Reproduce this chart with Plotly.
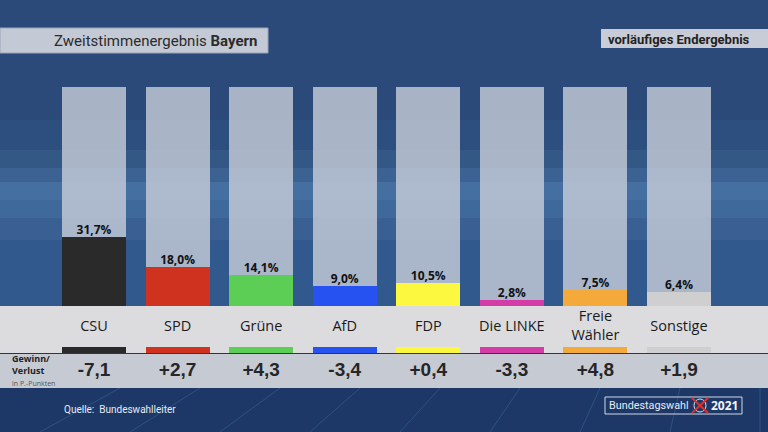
import plotly.graph_objects as go

# Zweitstimmenergebnis Bayern, Bundestagswahl 2021
parties = ["CSU", "SPD", "Grüne", "AfD", "FDP", "Die LINKE", "Freie<br>Wähler", "Sonstige"]
shares = [31.7, 18.0, 14.1, 9.0, 10.5, 2.8, 7.5, 6.4]
changes = ["-7,1", "+2,7", "+4,3", "-3,4", "+0,4", "-3,3", "+4,8", "+1,9"]
colors = ["#2a2a2a", "#cf3320", "#5ccd55", "#2552f0", "#fcf83f", "#d43ca8", "#f4a93b", "#cfcfcf"]

W, H = 768, 432
PX = 2.19          # pixels per percent point
STEP = 83.57       # pixels between party columns
X0 = 94            # pixel centre of the first column
BAR_W = 64 / STEP

def py(p):
    return 1 - p / H

def px(p):
    return p / W

xs = list(range(len(parties)))
pct_labels = ["<b>" + f"{v:.1f}".replace(".", ",") + "%</b>" for v in shares]
change_labels = ["<b>" + c + "</b>" for c in changes]

fig = go.Figure()

# full-height background columns (100 %)
fig.add_trace(go.Bar(x=xs, y=[100] * len(xs), width=BAR_W,
                     marker=dict(color="rgba(204,209,219,0.78)", line_width=0),
                     hoverinfo="skip"))
# result bars
fig.add_trace(go.Bar(x=xs, y=shares, width=BAR_W,
                     marker=dict(color=colors, line_width=0)))
# percent labels
fig.add_trace(go.Scatter(x=xs, y=shares, mode="text", text=pct_labels,
                         textposition="top center",
                         textfont=dict(family="Open Sans", size=12, color="#111111")))

# colour strips below party names
fig.add_trace(go.Bar(x=xs, y=[2.8] * len(xs), base=-21.6, width=BAR_W,
                     marker=dict(color=colors, line_width=0)))
# party names
fig.add_trace(go.Scatter(x=xs, y=[-9.6] * len(xs), mode="text", text=parties,
                         textfont=dict(family="Open Sans", size=14.5, color="#1a1a1a")))
# gains / losses
fig.add_trace(go.Scatter(x=xs, y=[-30] * len(xs), mode="text", text=change_labels,
                         textfont=dict(family="Liberation Sans", size=19, color="#262626")))

shapes = []
# background gradient (dark blue with lighter middle band)
bands = [(0, 120, "#2b4a7a"), (120, 150, "#2d4f80"), (150, 168, "#335886"),
         (168, 182, "#3b6293"), (182, 200, "#456fa0"), (200, 218, "#3f699b"),
         (218, 240, "#395f93"), (240, 306, "#32598d"), (306, 432, "#1d3867")]
for a, b, c in bands:
    shapes.append(dict(type="rect", xref="paper", yref="paper", x0=0, x1=1,
                       y0=py(b), y1=py(a), fillcolor=c, line_width=0, layer="below"))
# grid lines on lower dark area
for i in range(9):
    shapes.append(dict(type="line", xref="paper", yref="paper",
                       x0=px(40 + i * 90), x1=px(120 + i * 80), y0=0, y1=py(388),
                       line=dict(color="rgba(90,160,220,0.25)", width=1), layer="below"))
# label band and change band
shapes.append(dict(type="rect", xref="paper", yref="paper", x0=0, x1=1,
                   y0=py(353), y1=py(306), fillcolor="#dcdcdf", line_width=0, layer="below"))
shapes.append(dict(type="rect", xref="paper", yref="paper", x0=0, x1=1,
                   y0=py(388), y1=py(354), fillcolor="#c6cad3", line_width=0, layer="below"))
# header boxes
shapes.append(dict(type="rect", xref="paper", yref="paper", x0=0, x1=px(268),
                   y0=py(53), y1=py(28), fillcolor="#c4c9d6",
                   line=dict(color="#9aa4b8", width=1)))
shapes.append(dict(type="rect", xref="paper", yref="paper", x0=px(601), x1=1,
                   y0=py(48), y1=py(29), fillcolor="#c8ccd7", line_width=0))
# logo box
shapes.append(dict(type="rect", xref="paper", yref="paper", x0=px(605), x1=px(742),
                   y0=py(414), y1=py(397), fillcolor="rgba(0,0,0,0)",
                   line=dict(color="#d0d8e6", width=1)))
shapes.append(dict(type="circle", xref="paper", yref="paper", x0=px(694), x1=px(706),
                   y0=py(412), y1=py(399), line=dict(color="#d8dde6", width=1)))
shapes.append(dict(type="line", xref="paper", yref="paper", x0=px(692), x1=px(708),
                   y0=py(398), y1=py(413), line=dict(color="#e0302a", width=2)))
shapes.append(dict(type="line", xref="paper", yref="paper", x0=px(692), x1=px(708),
                   y0=py(413), y1=py(398), line=dict(color="#e0302a", width=2)))

annotations = [
    dict(text="Zweitstimmenergebnis <b>Bayern</b>", x=px(52), y=py(41), xanchor="left",
         font=dict(family="Roboto", size=15, color="#2b2b2b")),
    dict(text="<b>vorläufiges Endergebnis</b>", x=px(606), y=py(39), xanchor="left",
         font=dict(family="Roboto", size=13, color="#222222")),
    dict(text="<b>Gewinn/<br>Verlust</b>", x=px(10), y=py(364), xanchor="left", align="left",
         font=dict(family="Open Sans", size=9, color="#222222")),
    dict(text="in P.-Punkten", x=px(10), y=py(383), xanchor="left",
         font=dict(family="Open Sans", size=7, color="#555555")),
    dict(text="Quelle:  Bundeswahlleiter", x=px(62), y=py(409), xanchor="left",
         font=dict(family="Roboto", size=10, color="#e6ebf3")),
    dict(text="Bundestagswahl", x=px(607), y=py(405.5), xanchor="left",
         font=dict(family="Roboto", size=10.8, color="#e6ebf3")),
    dict(text="<b>2021</b>", x=px(709), y=py(405.5), xanchor="left",
         font=dict(family="Open Sans", size=12, color="#f2f4f8")),
]
for a in annotations:
    a.update(xref="paper", yref="paper", showarrow=False, yanchor="middle")

fig.update_layout(
    width=W, height=H,
    margin=dict(l=0, r=0, t=0, b=0),
    paper_bgcolor="#2b4b7d", plot_bgcolor="rgba(0,0,0,0)",
    barmode="overlay", bargap=0, showlegend=False,
    xaxis=dict(range=[-X0 / STEP, (W - X0) / STEP], visible=False, fixedrange=True),
    yaxis=dict(range=[-(H - 306) / PX, 100 + 87 / PX], visible=False, fixedrange=True),
    shapes=shapes, annotations=annotations,
)

fig.write_html("out.html", config={"displayModeBar": False},
               post_script="document.body.style.margin='0';")
